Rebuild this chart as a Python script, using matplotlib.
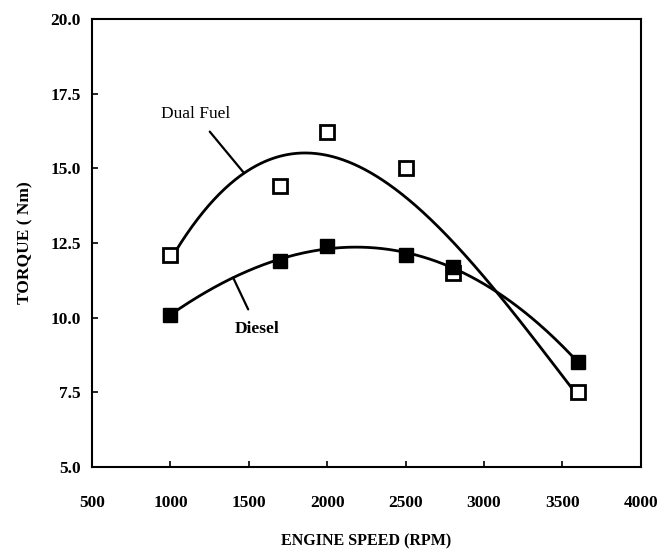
import numpy as np
import matplotlib
matplotlib.use("Agg")
import matplotlib.pyplot as plt

speed_dual = [1000, 1700, 2000, 2500, 2800, 3600]
torque_dual = [12.1, 14.4, 16.2, 15.0, 11.5, 7.5]
speed_diesel = [1000, 1700, 2000, 2500, 2800, 3600]
torque_diesel = [10.1, 11.9, 12.4, 12.1, 11.7, 8.5]
xticks = [500, 1000, 1500, 2000, 2500, 3000, 3500, 4000]
yticks = [5.0, 7.5, 10.0, 12.5, 15.0, 17.5, 20.0]

plt.rcParams['font.family'] = ['Liberation Serif', 'DejaVu Serif']

fig = plt.figure(figsize=(6.62, 5.53), dpi=100)
ax = fig.add_axes([0.139, 0.1555, 0.829, 0.8105])

xs = np.linspace(1000, 3600, 300)
cd = np.polyfit(speed_dual, torque_dual, 3)
ce = np.polyfit(speed_diesel, torque_diesel, 3)
ax.plot(xs, np.polyval(cd, xs), color='black', lw=2)
ax.plot(xs, np.polyval(ce, xs), color='black', lw=2)

ax.plot(speed_dual, torque_dual, 's', ms=9.5, mfc='white', mec='black', mew=2, ls='none', zorder=3)
ax.plot(speed_diesel, torque_diesel, 's', ms=9.5, mfc='black', mec='black', ls='none', zorder=3)

ax.annotate('Dual Fuel', xy=(1470, np.polyval(cd, 1470)), xytext=(1160, 16.8),
            fontsize=12.5, ha='center', va='center',
            arrowprops=dict(arrowstyle='-', color='black', lw=1.6, shrinkA=6, shrinkB=0))
ax.annotate('Diesel', xy=(1400, np.polyval(ce, 1400)), xytext=(1555, 9.62),
            fontsize=12.5, ha='center', va='center', fontweight='bold',
            arrowprops=dict(arrowstyle='-', color='black', lw=1.6, shrinkA=7, shrinkB=0))

ax.set_xlim(500, 4000)
ax.set_ylim(5.0, 20.0)
ax.set_xticks(xticks)
ax.set_yticks(yticks)
ax.set_xticklabels([str(v) for v in xticks], fontsize=12.5, fontweight='bold')
ax.set_yticklabels([f'{v:.1f}' for v in yticks], fontsize=12.5, fontweight='bold')
ax.tick_params(direction='in', length=4, width=1.2)
ax.tick_params(axis='x', pad=20)
ax.tick_params(axis='y', pad=8)
for s in ax.spines.values():
    s.set_linewidth(1.5)

ax.set_xlabel('ENGINE SPEED (RPM)', fontsize=11.5, fontweight='bold', labelpad=16)
ax.set_ylabel('TORQUE ( Nm)', fontsize=12.5, fontweight='bold', labelpad=12)

fig.savefig('out.png', dpi=100)
